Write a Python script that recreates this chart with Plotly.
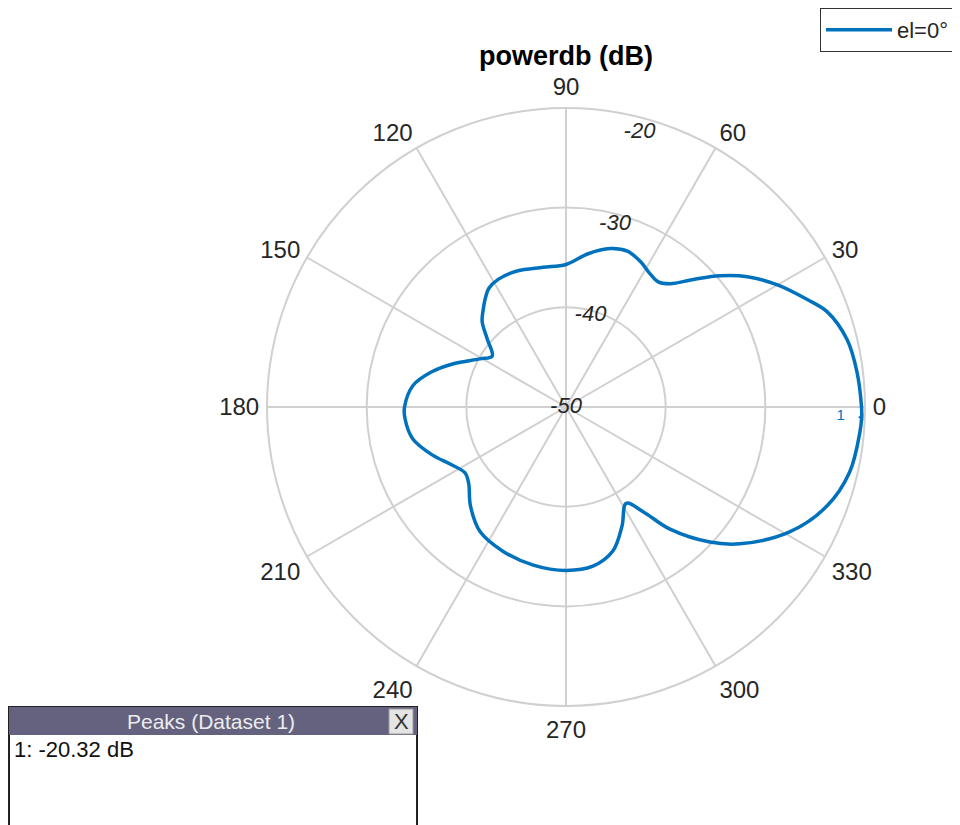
import plotly.graph_objects as go

# ---- data ----
theta_deg = [0, 7, 13.5, 20, 24, 30, 35.7, 40.4, 45, 49.8, 53.6, 57.7, 63, 68.5, 74.4,
             82, 90, 99.3, 109.8, 118, 123, 127, 130, 134.5, 139.3, 145.4, 150.8, 159,
             165.6, 172, 180, 184, 191.8, 200, 206, 213, 218, 226, 235.5, 246.5, 258.3,
             270, 279.6, 288, 295.2, 302, 306.3, 310.4, 316.8, 321.8, 330.8, 339.2,
             347.1, 355.2, 358, 360]
power_db = [-20.35, -20.6, -21.0, -22.1, -23.5, -25.5, -27.6, -29.7, -31.9, -33.8, -34.4,
            -34.2, -33.6, -33.2, -33.5, -34.5, -35.7, -35.8, -35.5, -35.5, -35.8, -36.5,
            -37.1, -38.0, -39.6, -41.0, -40.1, -37.9, -36.0, -34.5, -33.8, -33.8, -34.3,
            -35.8, -37.0, -37.9, -37.6, -36.2, -34.8, -34.2, -33.8, -33.6, -33.8, -34.8,
            -36.8, -38.6, -37.0, -33.9, -30.2, -27.8, -24.3, -22.0, -20.8, -20.4, -20.32,
            -20.35]
series_name = "el=0\u00b0"

peak_theta = [358]
peak_db = [-20.32]
peak_ids = ["1"]

angle_ticks = list(range(0, 360, 30))
radial_ticks = [-50, -40, -30, -20]
radial_tick_labels = ["-50", "-40", "-30", "-20"]
radial_range = [-50, -20]

title_text = "powerdb (dB)"
peaks_title = "Peaks (Dataset 1)"
peaks_lines = ["1: -20.32 dB"]

# ---- style ----
BLUE = "#0072BD"
GRID = "#d0d0d0"
TXT = "#262626"
FONT = "Liberation Sans, Arial, sans-serif"
LABEL_ANGLE = 75

# page offset (body margin) and figure size
OFF = 8
W, H = 952, 817


def px(x):
    return (x - OFF) / W


def py(y):
    return 1 - (y - OFF) / H


fig = go.Figure()

fig.add_trace(go.Scatterpolar(
    r=power_db, theta=theta_deg, mode="lines", name=series_name,
    line=dict(color=BLUE, width=3.5, shape="spline", smoothing=1.0),
    hoverinfo="skip"))

# peak marker and its id
fig.add_trace(go.Scatterpolar(
    r=peak_db, theta=peak_theta, mode="markers", showlegend=False,
    marker=dict(symbol="triangle-left", size=7, color=BLUE), hoverinfo="skip"))
fig.add_trace(go.Scatterpolar(
    r=[p - 2.1 for p in peak_db], theta=peak_theta, mode="text", text=peak_ids,
    showlegend=False, textfont=dict(color=BLUE, size=15, family=FONT),
    hoverinfo="skip"))

# radial tick labels along a ray
fig.add_trace(go.Scatterpolar(
    r=[t - 0.05 * (t - radial_range[0]) for t in radial_ticks],
    theta=[LABEL_ANGLE] * len(radial_ticks), mode="text", text=radial_tick_labels,
    showlegend=False, cliponaxis=False,
    textfont=dict(color=TXT, size=22, family=FONT, style="italic"),
    hoverinfo="skip"))

fig.update_layout(
    width=W, height=H,
    margin=dict(l=0, r=0, t=0, b=0),
    paper_bgcolor="white", plot_bgcolor="white",
    font=dict(family=FONT, color=TXT),
    title=dict(text="<b>" + title_text + "</b>", x=px(566), y=py(56),
               xanchor="center", yanchor="middle",
               font=dict(size=27, color="#000000", family=FONT)),
    polar=dict(
        domain=dict(x=[px(267), px(865)], y=[py(706), py(108)]),
        bgcolor="white",
        radialaxis=dict(range=radial_range, tickvals=radial_ticks,
                        showticklabels=False, ticks="", showline=False,
                        gridcolor=GRID, gridwidth=2, angle=0),
        angularaxis=dict(tickvals=angle_ticks, ticktext=[str(a) for a in angle_ticks],
                         direction="counterclockwise", rotation=0,
                         ticks="outside", ticklen=2, tickcolor="rgba(0,0,0,0)",
                         showline=True, linecolor=GRID, linewidth=2,
                         gridcolor=GRID, gridwidth=2,
                         tickfont=dict(size=24, color=TXT, family=FONT)),
    ),
    legend=dict(x=px(955), y=py(8), xanchor="right", yanchor="top",
                bgcolor="white", bordercolor="#333333", borderwidth=1,
                font=dict(size=22, color=TXT, family=FONT),
                itemwidth=66),
)

# Peaks panel (bottom left)
fig.add_shape(type="rect", xref="paper", yref="paper", x0=px(9), x1=px(417),
              y0=-0.02, y1=py(707), line=dict(color="#222222", width=2),
              fillcolor="white", layer="above")
fig.add_shape(type="rect", xref="paper", yref="paper", x0=px(9), x1=px(417),
              y0=py(735), y1=py(707), line=dict(width=0),
              fillcolor="#64627f", layer="above")
fig.add_shape(type="rect", xref="paper", yref="paper", x0=px(389), x1=px(413),
              y0=py(734), y1=py(709),
              line=dict(color="#9a9a9a", width=1), fillcolor="#e4e4e4", layer="above")
fig.add_annotation(xref="paper", yref="paper", x=px(401), y=py(721),
                   text="X", showarrow=False, xanchor="center", yanchor="middle",
                   font=dict(size=22, color="#333333", family=FONT))
fig.add_annotation(xref="paper", yref="paper", x=px(211), y=py(721),
                   text=peaks_title, showarrow=False, xanchor="center", yanchor="middle",
                   font=dict(size=21, color="#ececec", family=FONT))
fig.add_annotation(xref="paper", yref="paper", x=px(12), y=py(749),
                   text="<br>".join(peaks_lines), showarrow=False, xanchor="left",
                   yanchor="middle", align="left",
                   font=dict(size=22, color="#111111", family=FONT))

fig.write_html("out.html")
